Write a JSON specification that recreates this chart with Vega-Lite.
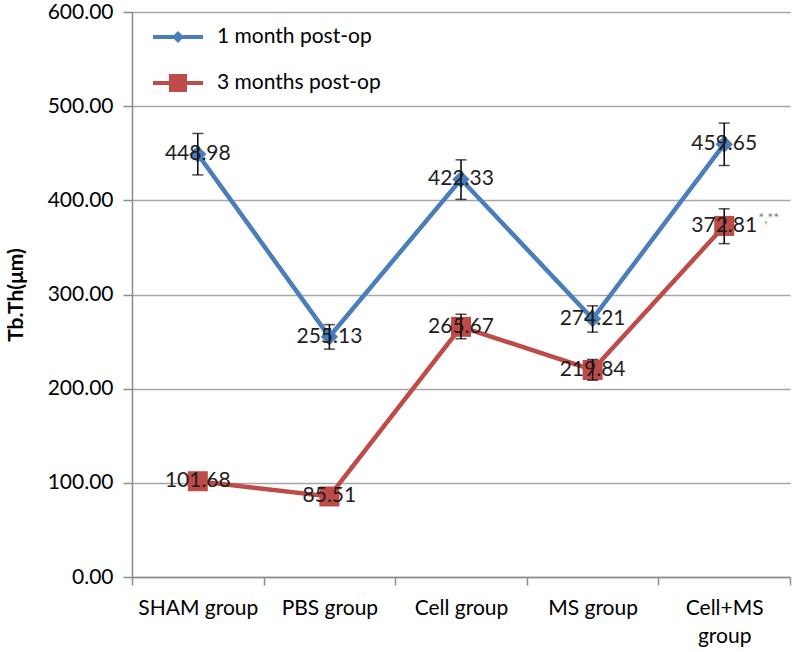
{
  "$schema": "https://vega.github.io/schema/vega-lite/v6.json",
  "width": 658,
  "height": 565,
  "autosize": "none",
  "padding": {"left": 132, "top": 12, "right": 3, "bottom": 75},
  "background": "white",
  "config": {"font": "Lato", "view": {"stroke": null}},
  "data": {
    "values": [
      {"group": "SHAM group", "series": "1 month post-op", "value": 448.98, "lo": 427, "hi": 471, "label": "448.98", "note": ""},
      {"group": "PBS group", "series": "1 month post-op", "value": 255.13, "lo": 242, "hi": 268, "label": "255.13", "note": ""},
      {"group": "Cell group", "series": "1 month post-op", "value": 422.33, "lo": 401, "hi": 443, "label": "422.33", "note": ""},
      {"group": "MS group", "series": "1 month post-op", "value": 274.21, "lo": 260, "hi": 288, "label": "274.21", "note": ""},
      {"group": "Cell+MS group", "series": "1 month post-op", "value": 459.65, "lo": 437, "hi": 482, "label": "459.65", "note": ""},
      {"group": "SHAM group", "series": "3 months post-op", "value": 101.68, "lo": null, "hi": null, "label": "101.68", "note": ""},
      {"group": "PBS group", "series": "3 months post-op", "value": 85.51, "lo": null, "hi": null, "label": "85.51", "note": ""},
      {"group": "Cell group", "series": "3 months post-op", "value": 265.67, "lo": 253, "hi": 279, "label": "265.67", "note": ""},
      {"group": "MS group", "series": "3 months post-op", "value": 219.84, "lo": 209, "hi": 231, "label": "219.84", "note": ""},
      {"group": "Cell+MS group", "series": "3 months post-op", "value": 372.81, "lo": 354, "hi": 391, "label": "372.81", "note": "*,**"}
    ]
  },
  "encoding": {
    "x": {
      "field": "group",
      "type": "nominal",
      "sort": ["SHAM group", "PBS group", "Cell group", "MS group", "Cell+MS group"],
      "scale": {"type": "band", "paddingInner": 0, "paddingOuter": 0},
      "axis": {
        "title": null,
        "labelAngle": 0,
        "tickBand": "extent",
        "labelFontSize": 21,
        "labelColor": "#000000",
        "labelPadding": 12,
        "labelLineHeight": 28,
        "labelExpr": "datum.label == 'Cell+MS group' ? ['Cell+MS', 'group'] : datum.label",
        "domainColor": "#8C8C8C",
        "domainWidth": 1.5,
        "tickColor": "#8C8C8C",
        "tickWidth": 1.5,
        "tickSize": 8,
        "grid": false
      }
    }
  },
  "layer": [
    {
      "mark": {"type": "line", "strokeWidth": 4.5},
      "encoding": {
        "y": {
          "field": "value",
          "type": "quantitative",
          "scale": {"domain": [0, 600], "nice": false},
          "axis": {
            "title": "Tb.Th(μm)",
            "titleFontSize": 21,
            "titleFontWeight": "bold",
            "titleColor": "#000000",
            "titlePadding": 21,
            "values": [0, 100, 200, 300, 400, 500, 600],
            "format": ".2f",
            "labelFontSize": 21,
            "labelColor": "#000000",
            "labelPadding": 10,
            "tickSize": 9,
            "tickColor": "#8C8C8C",
            "tickWidth": 1.5,
            "domainColor": "#8C8C8C",
            "domainWidth": 1.5,
            "grid": true,
            "gridColor": "#A6A6A6",
            "gridWidth": 1.5
          }
        },
        "color": {
          "field": "series",
          "type": "nominal",
          "scale": {"domain": ["1 month post-op", "3 months post-op"], "range": ["#4A7EBB", "#BE4B48"]},
          "legend": {
            "title": null,
            "orient": "none",
            "legendX": 21,
            "legendY": 0,
            "padding": 0,
            "symbolSize": 2500,
            "symbolStrokeWidth": 0,
            "labelFontSize": 21,
            "labelColor": "#000000",
            "labelOffset": 14,
            "labelLimit": 400,
            "rowPadding": 11,
            "encode": {
              "symbols": {
                "update": {
                  "shape": {"signal": "datum.value == '1 month post-op' ? 'M-1,-0.08H-0.16L0,-0.24L0.16,-0.08H1V0.08H0.16L0,0.24L-0.16,0.08H-1Z' : 'M-1,-0.08H-0.36V-0.36H0.36V-0.08H1V0.08H0.36V0.36H-0.36V0.08H-1Z'"},
                  "fill": {"signal": "scale('color', datum.value)"},
                  "stroke": {"value": "transparent"},
                  "size": {"value": 2500}
                }
              }
            }
          }
        }
      }
    },
    {
      "transform": [{"filter": "datum.series == '1 month post-op'"}],
      "mark": {"type": "point", "shape": "diamond", "filled": true, "size": 300, "opacity": 1},
      "encoding": {
        "y": {"field": "value", "type": "quantitative"},
        "color": {"field": "series", "type": "nominal"}
      }
    },
    {
      "transform": [{"filter": "datum.series == '3 months post-op'"}],
      "mark": {"type": "point", "shape": "square", "filled": true, "size": 400, "opacity": 1},
      "encoding": {
        "y": {"field": "value", "type": "quantitative"},
        "color": {"field": "series", "type": "nominal"}
      }
    },
    {
      "transform": [{"filter": "isValid(datum.lo)"}],
      "mark": {"type": "errorbar", "color": "#000000", "thickness": 1.5, "ticks": {"size": 11, "color": "#000000", "thickness": 1.5}},
      "encoding": {
        "y": {"field": "lo", "type": "quantitative", "title": "Tb.Th(μm)"},
        "y2": {"field": "hi"}
      }
    },
    {
      "mark": {"type": "text", "fontSize": 21, "color": "#1E1E1E", "align": "center", "baseline": "middle"},
      "encoding": {
        "y": {"field": "value", "type": "quantitative"},
        "text": {"field": "label"}
      }
    },
    {
      "transform": [{"filter": "datum.note != ''"}],
      "mark": {"type": "text", "fontSize": 14, "color": "#808080", "align": "left", "baseline": "middle", "dx": 34, "dy": -7},
      "encoding": {
        "y": {"field": "value", "type": "quantitative"},
        "text": {"field": "note"}
      }
    }
  ]
}
